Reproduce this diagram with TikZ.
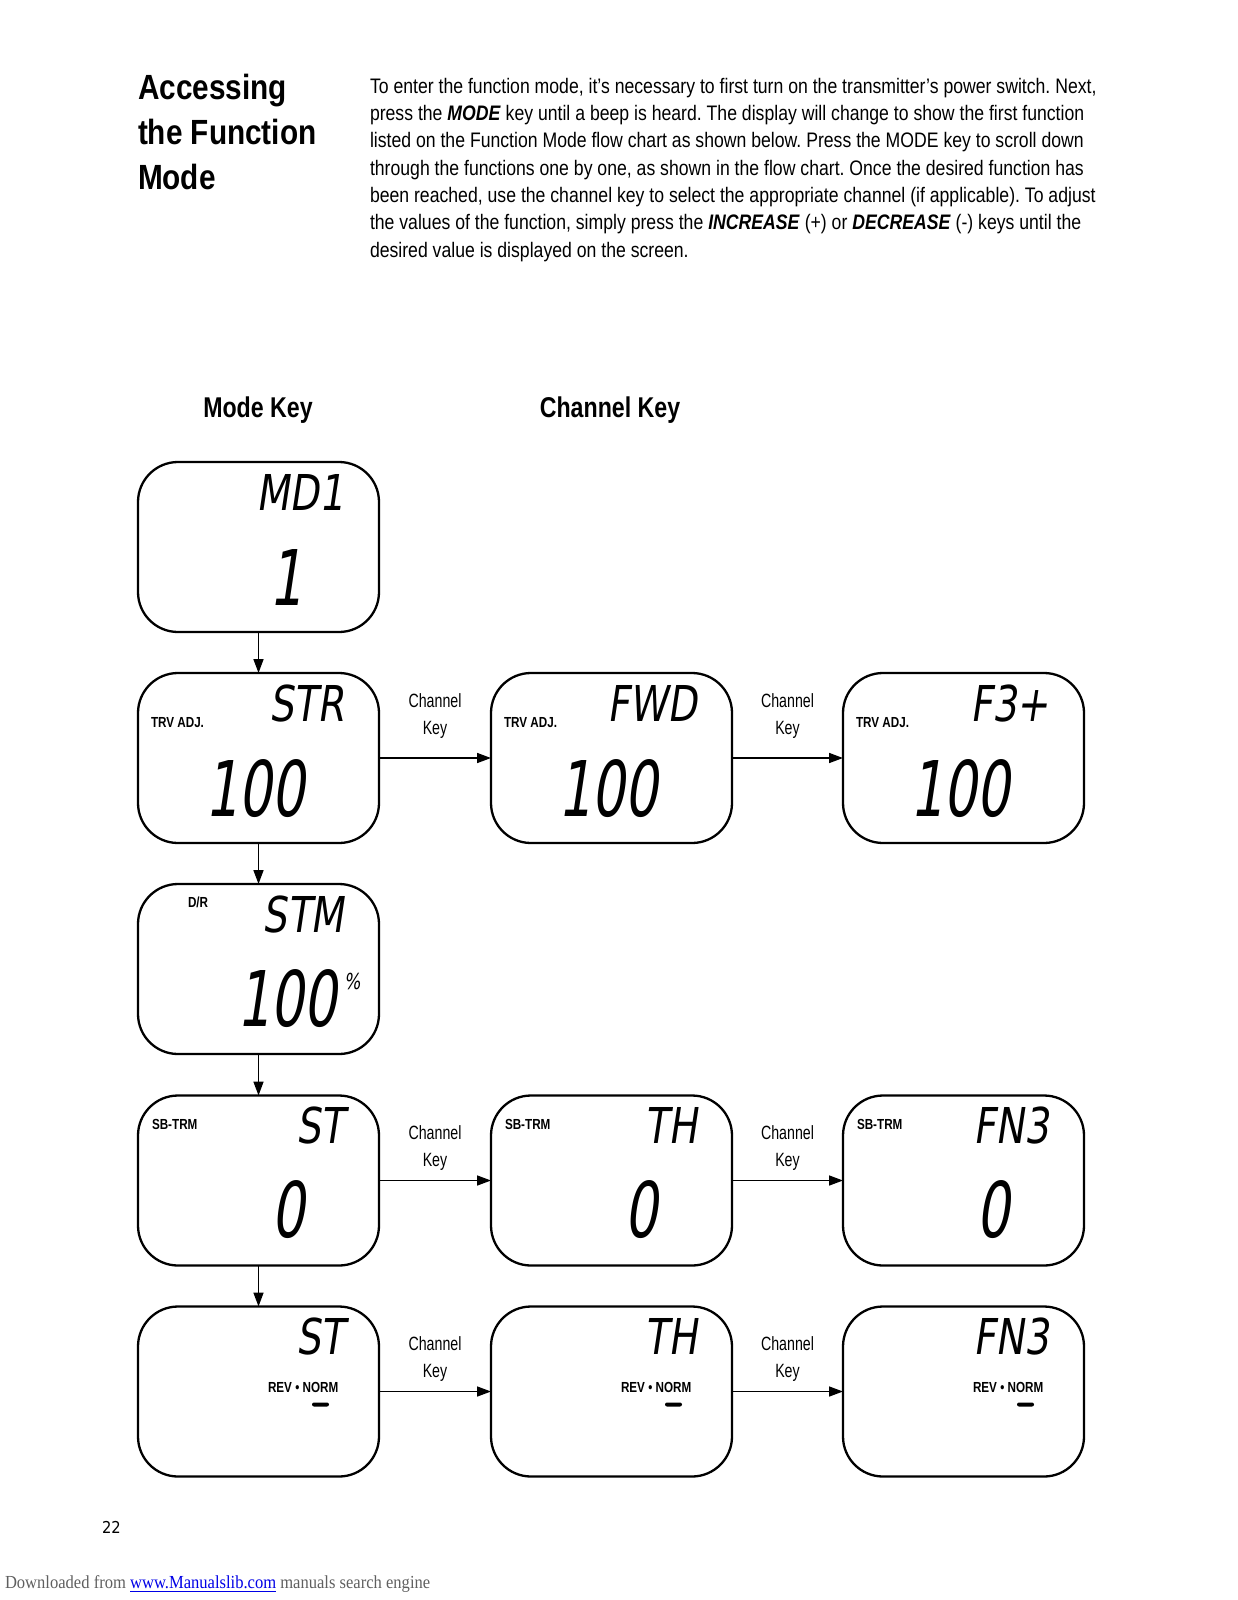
\documentclass[tikz,border=0pt]{standalone}
\usepackage{fontspec}
\usetikzlibrary{arrows.meta,calc}
\newfontfamily\bodyf[FakeStretch=0.84]{Liberation Sans}
\newfontfamily\keyf[FakeStretch=0.74]{Liberation Sans}
\newfontfamily\headf[FakeStretch=0.85]{Liberation Sans}
\newfontfamily\colf[FakeStretch=0.81]{Liberation Sans}
\newfontfamily\lblf[FakeStretch=0.8]{Liberation Sans}
\newfontfamily\lcdtop[FakeStretch=0.78,FakeSlant=0.15]{DejaVu Sans}
\newfontfamily\lcdbig[FakeStretch=0.68,FakeSlant=0.15]{DejaVu Sans}
\newfontfamily\lcdpg[FakeStretch=0.9]{DejaVu Sans}
\newfontfamily\footf[FakeStretch=0.9]{Liberation Serif}
\definecolor{linkblue}{RGB}{0,0,230}
\definecolor{footgray}{RGB}{95,95,95}
\frenchspacing
\begin{document}
\begin{tikzpicture}[x=0.5pt,y=-0.5pt,
  every node/.style={inner sep=0pt, outer sep=0pt},
  screen/.style={draw, line width=1.15pt, rounded corners=20pt, minimum width=120.5pt, minimum height=85pt},
  arr/.style={-{Triangle[length=7pt,width=5pt]}, line width=0.8pt},
  body/.style={anchor=base west, font=\bodyf\fontsize{10.5}{12}\selectfont},
  head/.style={anchor=base west, font=\headf\bfseries\fontsize{17.5}{20}\selectfont},
  colhead/.style={anchor=base, font=\colf\bfseries\fontsize{14.3}{16}\selectfont},
  chkey/.style={anchor=base, font=\keyf\fontsize{9.6}{11}\selectfont},
  toplbl/.style={anchor=base east, font=\lcdtop\fontsize{24.7}{26}\selectfont},
  biglbl/.style={anchor=base east, font=\lcdbig\fontsize{38.4}{40}\selectfont},
  small/.style={anchor=base west, font=\lblf\bfseries\fontsize{7.3}{8}\selectfont},
  dashseg/.style={fill, minimum width=8.5pt, minimum height=2pt, rounded corners=1pt}
]
\useasboundingbox (0,0) rectangle (1237,1600);

% ---------- heading ----------
\node[head] (h1) at (138,99) {Accessing};
\node[head] (h2) at (138,145) {the Function};
\node[head] (h3) at (138,189) {Mode};

% ---------- paragraph ----------
\node[body] (p1) at (370,93.3) {To enter the function mode, it’s necessary to first turn on the transmitter’s power switch. Next,};
\node[body] (p2) at (370,120.6) {press the \textbf{\textit{MODE}} key until a beep is heard. The display will change to show the first function};
\node[body] (p3) at (370,147.9) {listed on the Function Mode flow chart as shown below. Press the MODE key to scroll down};
\node[body] (p4) at (370,175.2) {through the functions one by one, as shown in the flow chart. Once the desired function has};
\node[body] (p5) at (370,202.5) {been reached, use the channel key to select the appropriate channel (if applicable). To adjust};
\node[body] (p6) at (370,229.8) {the values of the function, simply press the \textbf{\textit{INCREASE}} (+) or \textbf{\textit{DECREASE}} (-) keys until the};
\node[body] (p7) at (370,257.1) {desired value is displayed on the screen.};

% ---------- column headings ----------
\node[colhead] (mk) at (258,417) {Mode Key};
\node[colhead] (ck) at (610,417) {Channel Key};

% ---------- screens ----------
\node[screen] (a1) at (258.5,547) {};
\node[screen] (a2) at (258.5,758) {};
\node[screen] (b2) at (611.5,758) {};
\node[screen] (c2) at (963.5,758) {};
\node[screen] (a3) at (258.5,969) {};
\node[screen] (a4) at (258.5,1180.5) {};
\node[screen] (b4) at (611.5,1180.5) {};
\node[screen] (c4) at (963.5,1180.5) {};
\node[screen] (a5) at (258.5,1391.5) {};
\node[screen] (b5) at (611.5,1391.5) {};
\node[screen] (c5) at (963.5,1391.5) {};

% ---------- row 1 ----------
\node[toplbl] (a1t) at ($(a1.north west)+(206,48)$) {MD1};
\node[biglbl] (a1v) at ($(a1.north west)+(165,143)$) {1};

% ---------- row 2 ----------
\foreach \b/\t in {a2/STR, b2/FWD, c2/F3+}{
  \node[toplbl] (\b t) at ($(\b.north west)+(206,48)$) {\t};
  \node[small] (\b s) at ($(\b.north west)+(13,54)$) {TRV ADJ.};
  \node[biglbl] (\b v) at ($(\b.north west)+(167,143)$) {100};
}

% ---------- row 3 ----------
\node[toplbl] (a3t) at ($(a3.north west)+(206,48)$) {STM};
\node[small] (a3s) at ($(a3.north west)+(50,23)$) {D/R};
\node[biglbl] (a3v) at ($(a3.north west)+(199,142)$) {100};
\node[anchor=north west, font=\lcdtop\fontsize{11}{12}\selectfont] (a3p) at ($(a3.north west)+(206,89)$) {\%};

% ---------- row 4 ----------
\foreach \b/\t in {a4/ST, b4/TH, c4/FN3}{
  \node[toplbl] (\b t) at ($(\b.north west)+(206,48)$) {\t};
  \node[small] (\b s) at ($(\b.north west)+(14,34)$) {SB-TRM};
  \node[biglbl] (\b v) at ($(\b.north west)+(167,142)$) {0};
}

% ---------- row 5 ----------
\foreach \b/\t in {a5/ST, b5/TH, c5/FN3}{
  \node[toplbl] (\b t) at ($(\b.north west)+(206,48)$) {\t};
  \node[small] (\b s) at ($(\b.north west)+(130,86)$) {REV • NORM};
  \node[dashseg] (\b d) at ($(\b.north west)+(182.5,98)$) {};
}

% ---------- arrows ----------
\draw[arr] (a1) -- (a2);
\draw[arr] (a2) -- (a3);
\draw[arr] (a3) -- (a4);
\draw[arr] (a4) -- (a5);
\draw[arr] (a2) -- (b2);
\draw[arr] (b2) -- (c2);
\draw[arr] (a4) -- (b4);
\draw[arr] (b4) -- (c4);
\draw[arr] (a5) -- (b5);
\draw[arr] (b5) -- (c5);

% ---------- channel key labels ----------
\node[chkey] (k2a) at (435,707) {Channel};
\node[chkey] (k2b) at (435,734) {Key};
\node[chkey] (k2c) at (787.5,707) {Channel};
\node[chkey] (k2d) at (787.5,734) {Key};
\node[chkey] (k4a) at (435,1139) {Channel};
\node[chkey] (k4b) at (435,1166) {Key};
\node[chkey] (k4c) at (787.5,1139) {Channel};
\node[chkey] (k4d) at (787.5,1166) {Key};
\node[chkey] (k5a) at (435,1350) {Channel};
\node[chkey] (k5b) at (435,1377) {Key};
\node[chkey] (k5c) at (787.5,1350) {Channel};
\node[chkey] (k5d) at (787.5,1377) {Key};

% ---------- page number & footer ----------
\node[anchor=base west, font=\lcdpg\fontsize{8.2}{9}\selectfont] (pg) at (102,1533) {22};
\node[anchor=base west, font=\footf\fontsize{9.2}{10}\selectfont] (ft) at (5,1588)
  {\textcolor{footgray}{Downloaded from}\ \textcolor{linkblue}{\underline{www.Manualslib.com}}\ \textcolor{footgray}{manuals search engine}};
\end{tikzpicture}
\end{document}
